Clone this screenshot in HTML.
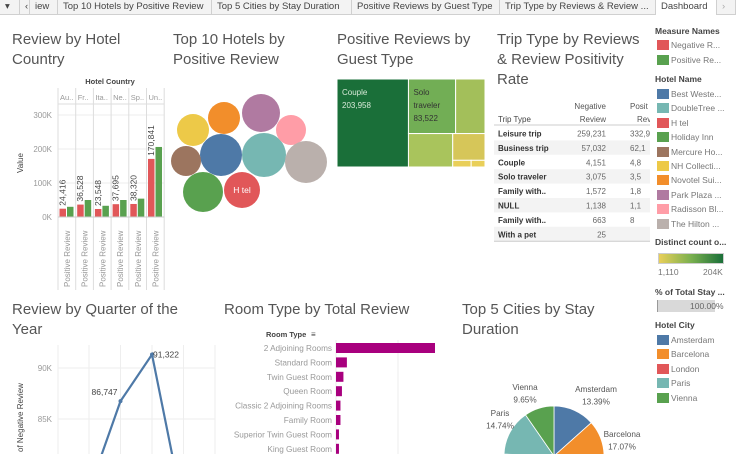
<!DOCTYPE html>
<html><head><meta charset="utf-8">
<style>
*{margin:0;padding:0;box-sizing:border-box}
html,body{width:736px;height:454px;overflow:hidden}
body{background:#fff;font-family:"Liberation Sans",sans-serif;position:relative;color:#555}
.tab{position:absolute;top:0;height:15px;font-size:9.5px;line-height:14px;color:#444;border-right:1px solid #d0d0d0;padding-left:5px;white-space:nowrap;overflow:hidden;background:#f3f3f3;border-bottom:1px solid #d0d0d0}
.title{position:absolute;font-size:15px;line-height:20px;color:#555}
.lg{position:absolute;font-size:8.5px;color:#777;white-space:nowrap}
.lgh{position:absolute;font-size:8.5px;color:#444;font-weight:bold;white-space:nowrap}
.sw{position:absolute;width:12px;height:10px}
svg{position:absolute;left:0;top:0;overflow:hidden}
</style></head><body>
<div style="position:absolute;left:0;top:0;width:736px;height:15px;background:#f3f3f3;border-bottom:1px solid #d0d0d0"></div>
<div class="tab" style="left:0;width:20px">▾</div>
<div class="tab" style="left:20px;width:10px">‹</div>
<div class="tab" style="left:30px;width:28px">iew</div>
<div class="tab" style="left:58px;width:154px">Top 10 Hotels by Positive Review</div>
<div class="tab" style="left:212px;width:140px">Top 5 Cities by Stay Duration</div>
<div class="tab" style="left:352px;width:148px">Positive Reviews by Guest Type</div>
<div class="tab" style="left:500px;width:156px">Trip Type by Reviews &amp; Review ...</div>
<div class="tab" style="left:656px;width:61px;background:#fff;border-bottom:none">Dashboard</div>
<div class="tab" style="left:717px;width:19px;color:#aaa">›</div>

<div class="title" style="left:12px;top:30px">Review by Hotel<br>Country</div>
<div class="title" style="left:173px;top:30px">Top 10 Hotels by<br>Positive Review</div>
<div class="title" style="left:337px;top:30px">Positive Reviews by<br>Guest Type</div>
<div class="title" style="left:497px;top:30px">Trip Type by Reviews<br>&amp; Review Positivity<br>Rate</div>
<div class="title" style="left:12px;top:300px">Review by Quarter of the<br>Year</div>
<div class="title" style="left:224px;top:300px">Room Type by Total Review</div>
<div class="title" style="left:462px;top:300px">Top 5 Cities by Stay<br>Duration</div>

<svg id="chart" width="736" height="454"></svg>

<div class="lgh" style="left:655px;top:26px">Measure Names</div>
<div class="sw" style="left:657px;top:40px;background:#e15759"></div>
<div class="lg" style="left:671px;top:40px">Negative R...</div>
<div class="sw" style="left:657px;top:55px;background:#59a14f"></div>
<div class="lg" style="left:671px;top:55px">Positive Re...</div>
<div class="lgh" style="left:655px;top:74px">Hotel Name</div>
<div id="hotelLegend"></div>
<div class="lgh" style="left:655px;top:237px">Distinct count o...</div>
<div style="position:absolute;left:658px;top:253px;width:66px;height:11px;border:1px solid #ccc;background:linear-gradient(90deg,#e9cf59,#7ab04f,#1a6f39)"></div>
<div class="lg" style="left:658px;top:267px">1,110</div>
<div class="lg" style="left:703px;top:267px">204K</div>
<div class="lgh" style="left:655px;top:287px">% of Total Stay ...</div>
<div style="position:absolute;left:657px;top:300px;width:58px;height:12px;background:#d9d9d9;border-left:1px solid #999"></div>
<div class="lg" style="left:690px;top:301px;color:#666">100.00%</div>
<div class="lgh" style="left:655px;top:320px">Hotel City</div>
<div id="cityLegend"></div>

<script>
// ---- data ----
const countries = ["Au..","Fr..","Ita..","Ne..","Sp..","Un.."];
const negByCountry = [24416,36528,23548,37695,38320,170841];
const posByCountry = [30000,50000,33000,50000,54000,206000];
const countryTicks = [0,100000,200000,300000];
const countryTickLabels = ["0K","100K","200K","300K"];

const hotels = ["Best Weste...","DoubleTree ...","H tel","Holiday Inn","Mercure Ho...","NH Collecti...","Novotel Sui...","Park Plaza ...","Radisson Bl...","The Hilton ..."];
const hotelColors = ["#4e79a7","#76b7b2","#e15759","#59a14f","#9c755f","#edc948","#f28e2b","#b07aa1","#ff9da7","#bab0ac"];
const hotelValues = [21,22,18,20,15,16,16,19,15,21];

const guestTypes = ["Couple","Solo traveler","Group","Family young","Family older","Other1","Other2"];
const guestValues = [203958,83522,52000,48000,28000,4000,3000];

const tripTypes = ["Leisure trip","Business trip","Couple","Solo traveler","Family with..","NULL","Family with..","With a pet"];
const tripNeg = ["259,231","57,032","4,151","3,075","1,572","1,138","663","25"];
const tripPos = ["332,9","62,1","4,8","3,5","1,8","1,1","8",""];

const quarters = ["Q1","Q2","Q3","Q4"];
const negByQuarter = [78000,86747,91322,76000];
const quarterTicks = [85000,90000];
const quarterTickLabels = ["85K","90K"];

const roomTypes = ["2 Adjoining Rooms","Standard Room","Twin Guest Room","Queen Room","Classic 2 Adjoining Rooms","Family Room","Superior Twin Guest Room","King Guest Room"];
const roomValues = [100,11,7.5,6,4.5,4.5,3,3];

const cities = ["Amsterdam","Barcelona","London","Paris","Vienna"];
const cityColors = ["#4e79a7","#f28e2b","#e15759","#76b7b2","#59a14f"];
const cityShare = [13.39,17.07,45.15,14.74,9.65];

// ---- helpers ----
const svg=document.getElementById('chart');
const NS="http://www.w3.org/2000/svg";
function mk(tag,attrs,parent){const e=document.createElementNS(NS,tag);for(const k in attrs)e.setAttribute(k,attrs[k]);(parent||svg).appendChild(e);return e;}
function txt(x,y,s,attrs){const e=mk('text',Object.assign({x:x,y:y,'font-size':8,fill:'#666','font-family':'Liberation Sans, sans-serif'},attrs||{}));e.textContent=s;return e;}

// ---- Review by Hotel Country ----
(function(){
  const x0=58,paneW=17.7,base=217,pxPer=34/100000;
  const y=v=>base-v*pxPer;
  let t=txt(110,84,"Hotel Country",{'font-size':7.5,'font-weight':'bold','text-anchor':'middle',fill:'#444'});
  
  countryTicks.forEach((v,i)=>{
    const l=mk('line',{x1:x0,x2:x0+paneW*6,y1:y(v),y2:y(v),stroke:'#eee'});
    
    const tl=txt(52,y(v)+3,countryTickLabels[i],{'text-anchor':'end',fill:'#999'});
    
  });
  const yt=txt(0,0,"Value",{'font-size':8,fill:'#444',transform:'translate(23,163) rotate(-90)','text-anchor':'middle'});
  
  mk('line',{x1:x0,x2:x0+paneW*6,y1:104,y2:104,stroke:'#ddd'});
  countries.forEach((c,i)=>{
    const px=x0+i*paneW;
    const sep=mk('line',{x1:px,x2:px,y1:88,y2:290,stroke:'#ddd'});
    
    const h=txt(px+2,100,c,{'font-size':7.5,fill:'#999'});
    
    const rb=mk('rect',{x:px+1.5,y:y(negByCountry[i]),width:6.5,height:base-y(negByCountry[i]),fill:'#e15759'});
    
    const gb=mk('rect',{x:px+9,y:y(posByCountry[i]),width:6.5,height:base-y(posByCountry[i]),fill:'#59a14f'});
    
    const lb=txt(0,0,negByCountry[i].toLocaleString('en-US'),{'font-size':8.5,fill:'#444',transform:`translate(${px+7.5},${y(negByCountry[i])-3}) rotate(-90)`});
    
    const xl=txt(0,0,"Positive Review",{'font-size':8,fill:'#999',transform:`translate(${px+12},287) rotate(-90)`});
    
  });
  mk('line',{x1:x0+paneW*6,x2:x0+paneW*6,y1:88,y2:290,stroke:'#ddd'});
  mk('line',{x1:x0,x2:x0+paneW*6,y1:base,y2:base,stroke:'#ccc'});
})();

// ---- Bubbles ----
(function(){
  const pos=[[221,155],[264,155],[242,190],[203,192],[186,161],[193,130],[224,118],[261,113],[291,130],[306,162]];
  hotels.forEach((h,i)=>{
    const c=mk('circle',{cx:pos[i][0],cy:pos[i][1],r:hotelValues[i],fill:hotelColors[i]});
    
    
  });
  const l=txt(242,193,"H tel",{fill:'#fff','font-size':8.5,'text-anchor':'middle'});
  
})();

// ---- Treemap ----
(function(){
  const X=337,Y=79,W=148,H=88,tot=guestValues.reduce((a,b)=>a+b,0);
  const cols=['#1a6f39','#72ae55','#a3bf5a','#a9c45c','#d6c659','#e9cf59','#e9cf59'];
  const w0=W*guestValues[0]/tot;
  const rects=[];
  rects.push([X,Y,w0,H]);
  const rx=X+w0,rw=W-w0,rest=tot-guestValues[0];
  const topSum=guestValues[1]+guestValues[2],topH=H*topSum/rest;
  const w1=rw*guestValues[1]/topSum;
  rects.push([rx,Y,w1,topH]);rects.push([rx+w1,Y,rw-w1,topH]);
  const botSum=rest-topSum,bH=H-topH;
  const w3=rw*guestValues[3]/botSum;
  rects.push([rx,Y+topH,w3,bH]);
  const rx2=rx+w3,rw2=rw-w3,s2=botSum-guestValues[3];
  const h4=bH*guestValues[4]/s2;
  rects.push([rx2,Y+topH,rw2,h4]);
  const w5=rw2*guestValues[5]/(guestValues[5]+guestValues[6]);
  rects.push([rx2,Y+topH+h4,w5,bH-h4]);rects.push([rx2+w5,Y+topH+h4,rw2-w5,bH-h4]);
  rects.forEach((r,i)=>{
    const e=mk('rect',{x:r[0],y:r[1],width:r[2],height:r[3],fill:cols[i],stroke:'#fff','stroke-width':1});
    
    
  });
  [["Couple",X+5,Y+16],[guestValues[0].toLocaleString('en-US'),X+5,Y+29]].forEach(a=>{const t=txt(a[1],a[2],a[0],{fill:'#d8ead8','font-size':8});});
  [["Solo",rx+5,Y+16],["traveler",rx+5,Y+29],[guestValues[1].toLocaleString('en-US'),rx+5,Y+42]].forEach(a=>{const t=txt(a[1],a[2],a[0],{fill:'#333','font-size':8});});
})();

// ---- Table ----
(function(){
  const h1=txt(606,109,"Negative",{'text-anchor':'end','font-size':8,fill:'#555'});
  
  const h2=txt(606,122,"Review",{'text-anchor':'end','font-size':8,fill:'#555'});
  
  const h3=txt(630,109,"Posit",{'font-size':8,fill:'#555'});
  
  const h4=txt(637,122,"Rev",{'font-size':8,fill:'#555'});
  
  const h5=txt(498,122,"Trip Type",{'font-size':8,fill:'#444'});
  
  mk('line',{x1:494,x2:650,y1:125,y2:125,stroke:'#ccc'});
  tripTypes.forEach((t,i)=>{
    const y=126+i*14.4;
    if(i%2==1){const r=mk('rect',{x:494,y:y,width:156,height:14.4,fill:'#f3f3f3'});}
    const a=txt(498,y+10.5,t,{'font-size':8,fill:'#333','font-weight':'bold'});
    
    const b=txt(606,y+10.5,tripNeg[i],{'font-size':8,fill:'#666','text-anchor':'end'});
    
    const c=txt(630,y+10.5,tripPos[i],{'font-size':8,fill:'#666'});
    
  });
  mk('line',{x1:494,x2:650,y1:126+8*14.4,y2:126+8*14.4,stroke:'#ccc'});
  mk('rect',{x:650,y:95,width:4,height:150,fill:'#fff'});
})();

// ---- Line chart ----
(function(){
  const x0=58,x1=215,step=31.5,xs=i=>89+i*step;
  const y=v=>368-(v-90000)*51/5000;
  for(let i=0;i<5;i++){const g=mk('line',{x1:xs(i),x2:xs(i),y1:345,y2:454,stroke:'#eee'});}
  mk('line',{x1:x0,x2:x0,y1:345,y2:454,stroke:'#eee'});
  quarterTicks.forEach((v,i)=>{
    const g=mk('line',{x1:x0,x2:x1,y1:y(v),y2:y(v),stroke:'#eee'});
    const t=txt(52,y(v)+3,quarterTickLabels[i],{'text-anchor':'end',fill:'#999'});
    
  });
  const yt=txt(0,0,"of Negative Review",{'font-size':8,fill:'#444',transform:'translate(23,452) rotate(-90)'});
  
  const p=mk('polyline',{points:negByQuarter.map((v,i)=>xs(i)+','+y(v)).join(' '),fill:'none',stroke:'#4e79a7','stroke-width':2.2});
  
  negByQuarter.forEach((v,i)=>{
    const c=mk('circle',{cx:xs(i),cy:y(v),r:2,fill:'#4e79a7'});
    
  });
  const l1=txt(xs(1)-3,y(negByQuarter[1])-6,negByQuarter[1].toLocaleString('en-US'),{'text-anchor':'end','font-size':8.5,fill:'#444'});
  
  const l2=txt(xs(2)+1,y(negByQuarter[2])+3,negByQuarter[2].toLocaleString('en-US'),{'font-size':8.5,fill:'#444'});
  
})();

// ---- Room type bars ----
(function(){
  const x0=336,maxW=99,max=Math.max(...roomValues);
  const h=txt(266,337,"Room Type",{'font-size':7.5,'font-weight':'bold',fill:'#444'});
  
  const s=txt(311,337,"≡",{'font-size':8,fill:'#444'});
  [0,1].forEach(k=>{const g=mk('line',{x1:x0+k*62,x2:x0+k*62,y1:340,y2:454,stroke:'#eee'});});
  roomTypes.forEach((r,i)=>{
    const y=343+i*14.4;
    const t=txt(332,y+8,r,{'text-anchor':'end','font-size':8.2,fill:'#999'});
    
    const b=mk('rect',{x:x0,y:y,width:roomValues[i]/max*maxW,height:10,fill:'#a8007e'});
    
  });
})();

// ---- Pie ----
(function(){
  const cx=554,cy=456,r=50;let a0=-Math.PI/2;
  const tot=cityShare.reduce((a,b)=>a+b,0);
  cityShare.forEach((v,i)=>{
    const a1=a0+v/tot*2*Math.PI;
    const large=(a1-a0)>Math.PI?1:0;
    const d=`M${cx},${cy} L${cx+r*Math.cos(a0)},${cy+r*Math.sin(a0)} A${r},${r} 0 ${large} 1 ${cx+r*Math.cos(a1)},${cy+r*Math.sin(a1)} Z`;
    const p=mk('path',{d:d,fill:cityColors[i],stroke:'#fff','stroke-width':0.8});
    
    a0=a1;
  });
  const labels=[[0,596,392],[1,622,437],[3,500,416],[4,525,390]];
  labels.forEach(l=>{
    const i=l[0];
    const a=txt(l[1],l[2],cities[i],{'text-anchor':'middle','font-size':8.2,fill:'#555'});
    
    const b=txt(l[1],l[2]+12.5,cityShare[i].toFixed(2)+'%',{'text-anchor':'middle','font-size':8.2,fill:'#555'});
    
  });
})();

// ---- legends ----
(function(){
  const hl=document.getElementById('hotelLegend');
  hotels.forEach((h,i)=>{
    const y=89+i*14.4;
    const s=document.createElement('div');s.className='sw';s.style.cssText=`left:657px;top:${y}px;background:${hotelColors[i]}`;
    
    
    hl.appendChild(s);
    const t=document.createElement('div');t.className='lg';t.style.cssText=`left:671px;top:${y}px`;t.textContent=h;
    
    
    hl.appendChild(t);
  });
  const cl=document.getElementById('cityLegend');
  cities.forEach((c,i)=>{
    const y=335+i*14.4;
    const s=document.createElement('div');s.className='sw';s.style.cssText=`left:657px;top:${y}px;background:${cityColors[i]}`;
    
    
    cl.appendChild(s);
    const t=document.createElement('div');t.className='lg';t.style.cssText=`left:671px;top:${y}px`;t.textContent=c;
    
    
    cl.appendChild(t);
  });
})();
</script>
</body></html>
